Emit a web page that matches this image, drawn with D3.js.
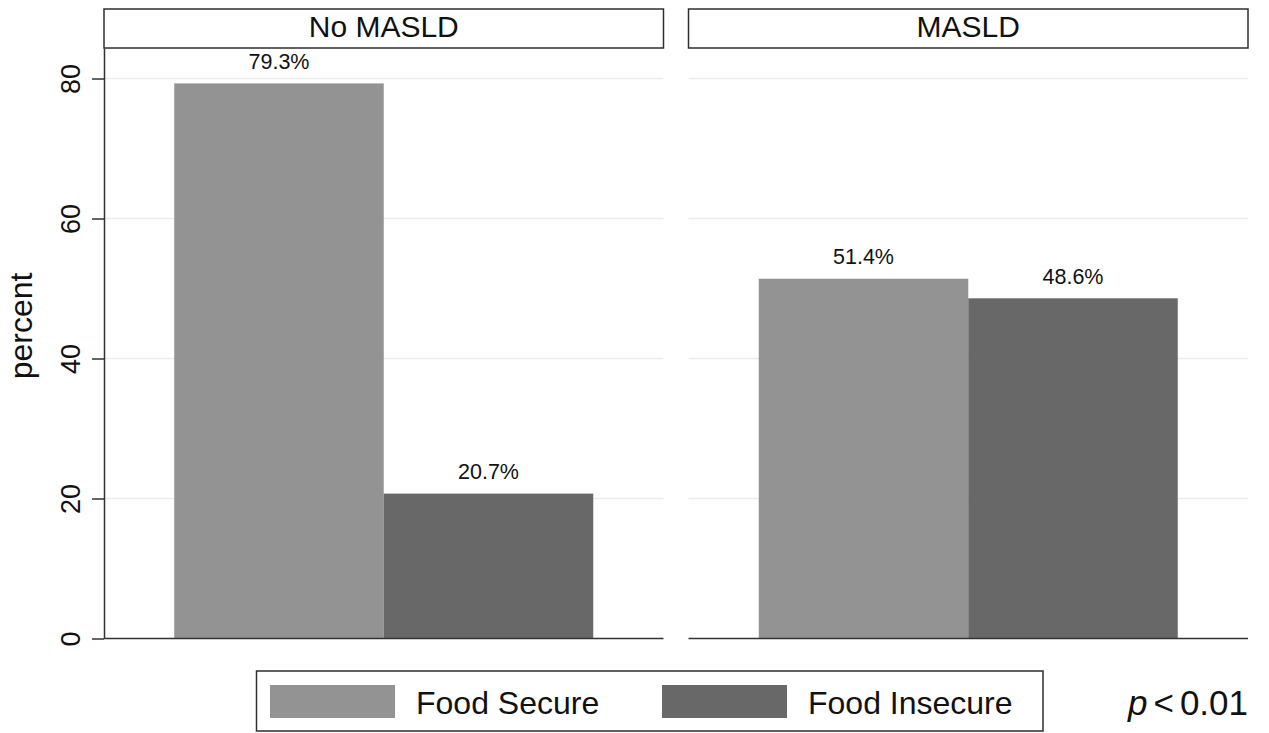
<!DOCTYPE html>
<html>
<head>
<meta charset="utf-8">
<script src="https://cdn.jsdelivr.net/npm/d3@7"></script>
<style>
  html, body { margin: 0; padding: 0; background: #fff; }
  svg { display: block; font-family: "Liberation Sans", Arial, Helvetica, sans-serif; }
</style>
</head>
<body>
<svg id="chart" width="1269" height="733"></svg>
<script>
// ---- data ----
const panels = ["No MASLD", "MASLD"];
const series = ["Food Secure", "Food Insecure"];
const valuesFoodSecure = [79.3, 51.4];
const valuesFoodInsecure = [20.7, 48.6];
const yTicks = [0, 20, 40, 60, 80];
const yLabel = "percent";
const pText = { italic: "p", rest: "0.01" };

const colors = ["#939393", "#686868"];

// ---- layout ----
const W = 1269, H = 733;
const plotLeft = 104, plotRight = 1248;
const stripTop = 9, stripBottom = 48;
const plotBottom = 638.5;
const svg = d3.select("#chart");

const y = d3.scaleLinear().domain([0, 84.36]).range([plotBottom, stripBottom]);

const panelX = d3.scaleBand().domain(panels).range([plotLeft, plotRight])
  .paddingInner(0.0428).paddingOuter(0);
const bw = panelX.bandwidth();
const barX = d3.scaleBand().domain(series).range([0, bw])
  .paddingInner(0).paddingOuter(0.3353);

const data = panels.map((p, i) => ({
  panel: p,
  values: [
    { s: series[0], v: valuesFoodSecure[i] },
    { s: series[1], v: valuesFoodInsecure[i] }
  ]
}));
const color = d3.scaleOrdinal().domain(series).range(colors);

const pg = svg.selectAll("g.panel").data(data).join("g")
  .attr("class", "panel")
  .attr("transform", d => `translate(${panelX(d.panel)},0)`);

// gridlines
pg.selectAll("line.grid").data(yTicks.filter(t => t > 0)).join("line")
  .attr("x1", 0).attr("x2", bw)
  .attr("y1", d => y(d)).attr("y2", d => y(d))
  .attr("stroke", "#ececec").attr("stroke-width", 1.5);

// strip header
pg.append("rect")
  .attr("x", 0).attr("y", stripTop).attr("width", bw).attr("height", stripBottom - stripTop)
  .attr("fill", "#fff").attr("stroke", "#2e2e2e").attr("stroke-width", 1.5);
pg.append("text")
  .attr("x", bw / 2).attr("y", 37)
  .attr("text-anchor", "middle").attr("font-size", 30).attr("fill", "#111")
  .text(d => d.panel);

// bars
pg.selectAll("rect.bar").data(d => d.values).join("rect")
  .attr("class", "bar")
  .attr("x", d => barX(d.s)).attr("width", barX.bandwidth())
  .attr("y", d => y(d.v)).attr("height", d => y(0) - y(d.v))
  .attr("fill", d => color(d.s));

// value labels
pg.selectAll("text.val").data(d => d.values).join("text")
  .attr("class", "val")
  .attr("x", d => barX(d.s) + barX.bandwidth() / 2)
  .attr("y", d => y(d.v) - 14.5)
  .attr("text-anchor", "middle").attr("font-size", 21.5).attr("fill", "#111")
  .text(d => d.v.toFixed(1) + "%");

// x axis baseline per panel
pg.append("line")
  .attr("x1", 0).attr("x2", bw).attr("y1", y(0)).attr("y2", y(0))
  .attr("stroke", "#333").attr("stroke-width", 1.5);

// y axis
const yAxis = d3.axisLeft(y).tickValues(yTicks).tickSize(12).tickSizeOuter(0).tickPadding(12);
const ga = svg.append("g").attr("transform", `translate(${plotLeft},0)`).call(yAxis);
ga.select(".domain").attr("stroke", "#333").attr("stroke-width", 1.5);
ga.selectAll(".tick line").attr("stroke", "#333").attr("stroke-width", 1.5);
ga.selectAll(".tick text")
  .attr("font-size", 27).attr("fill", "#111")
  .attr("font-family", "'Liberation Sans', Arial, sans-serif")
  .attr("text-anchor", "middle")
  .attr("x", null).attr("dy", null)
  .attr("transform", "translate(-24,0) rotate(-90)");

// y label
svg.append("text")
  .attr("transform", `translate(32,326) rotate(-90)`)
  .attr("text-anchor", "middle").attr("font-size", 32).attr("fill", "#111")
  .text(yLabel);

// legend
const lg = svg.append("g");
lg.append("rect").attr("x", 256.5).attr("y", 671).attr("width", 786.5).attr("height", 60)
  .attr("fill", "#fff").attr("stroke", "#2e2e2e").attr("stroke-width", 1.5);
const legX = d3.scaleOrdinal().domain(series).range([270, 662]);
const items = lg.selectAll("g.item").data(series).join("g")
  .attr("transform", d => `translate(${legX(d)},0)`);
items.append("rect").attr("x", 0).attr("y", 685).attr("width", 125).attr("height", 33)
  .attr("fill", d => color(d));
items.append("text").attr("x", 146).attr("y", 713.5)
  .attr("font-size", 32).attr("fill", "#111").text(d => d);

// p-value
const pt = svg.append("text").attr("x", plotRight).attr("y", 715)
  .attr("text-anchor", "end").attr("font-size", 35).attr("fill", "#111");
pt.append("tspan").attr("font-style", "italic").text(pText.italic);
pt.append("tspan").attr("dx", 6).text("<");
pt.append("tspan").attr("dx", 6).text(pText.rest);
</script>
</body>
</html>
